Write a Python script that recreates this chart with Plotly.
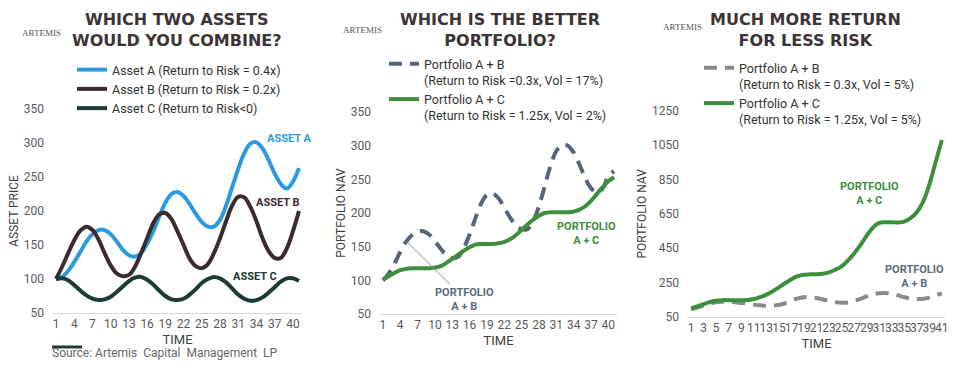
import plotly.graph_objects as go

W, H = 958, 372

# ---------------- data ----------------
time = list(range(1, 42))

asset_a = [100, 103, 112, 125, 140, 155, 166, 172, 172, 166, 155, 143, 135, 133, 138, 152, 170, 192, 212, 225,
           228, 222, 210, 196, 184, 177, 177, 187, 208, 235, 262, 285, 299, 301, 292, 275, 255, 240, 233, 243, 263]
asset_b = [100, 118, 138, 157, 171, 177, 172, 158, 138, 120, 108, 104, 106, 118, 138, 160, 182, 195, 197, 188,
           170, 150, 130, 119, 116, 122, 138, 160, 185, 208, 221, 220, 206, 185, 160, 141, 131, 131, 145, 170, 200]
asset_c = [100, 101, 98, 91, 83, 76, 71, 69, 70, 74, 81, 89, 97, 102, 103, 99, 92, 83, 75, 70,
           69, 71, 77, 85, 94, 100, 103, 101, 95, 86, 77, 71, 68, 69, 73, 80, 88, 96, 101, 101, 97]

p2_ab = [100, 110, 125, 142, 157, 167, 172, 173, 168, 158, 147, 137, 133, 135, 148, 168, 192, 214, 227, 229,
         222, 208, 193, 182, 176, 176, 188, 210, 240, 270, 292, 301, 300, 290, 272, 252, 237, 231, 236, 255, 262]
p2_ac = [101, 106, 111, 115, 117, 118, 118, 118, 118, 119, 121, 126, 132, 138, 144, 149, 153, 154, 154, 154,
         155, 157, 161, 167, 175, 183, 190, 196, 200, 201, 201, 201, 201, 202, 205, 210, 218, 228, 238, 247, 253]

p3_ab = [95, 105, 118, 128, 135, 138, 138, 136, 132, 128, 122, 118, 116, 116, 120, 130, 145, 158, 165, 165,
         160, 152, 142, 136, 133, 134, 142, 155, 170, 182, 188, 190, 186, 176, 165, 158, 155, 156, 163, 175, 188]
p3_ac = [100, 112, 125, 137, 145, 148, 148, 147, 147, 149, 155, 165, 180, 200, 222, 247, 270, 288, 296, 298,
         299, 302, 310, 325, 345, 378, 420, 468, 522, 570, 597, 601, 601, 600, 605, 625, 660, 720, 820, 950, 1080]

ticks_12 = list(range(1, 42, 3))
ticks_3 = list(range(1, 42, 2))
y1_ticks = [50, 100, 150, 200, 250, 300, 350]
y3_ticks = [50, 250, 450, 650, 850, 1050, 1250]

# ---------------- styles ----------------
BLUE = "#2b9ae0"
PLUM = "#3b2b31"
TEAL = "#1d3b36"
GREEN = "#3d8f3c"
SLATE = "#56657a"
GRAY = "#8a8a8a"
TXT = "#595959"
FONT = "Roboto"


def px_x(p):
    return p / W


def px_y(p):
    return 1 - p / H


fig = go.Figure()

fig.add_trace(go.Scatter(x=time, y=asset_a, mode="lines", line=dict(color=BLUE, width=4, shape="spline"),
                         name="Asset A (Return to Risk = 0.4x)", xaxis="x", yaxis="y", legend="legend"))
fig.add_trace(go.Scatter(x=time, y=asset_b, mode="lines", line=dict(color=PLUM, width=4, shape="spline"),
                         name="Asset B (Return to Risk = 0.2x)", xaxis="x", yaxis="y", legend="legend"))
fig.add_trace(go.Scatter(x=time, y=asset_c, mode="lines", line=dict(color=TEAL, width=4, shape="spline"),
                         name="Asset C (Return to Risk<0)", xaxis="x", yaxis="y", legend="legend"))

fig.add_trace(go.Scatter(x=time, y=p2_ab, mode="lines",
                         line=dict(color=SLATE, width=4, shape="spline", dash="13px,8px"),
                         name="Portfolio A + B<br>(Return to Risk =0.3x, Vol = 17%)",
                         xaxis="x2", yaxis="y2", legend="legend2"))
fig.add_trace(go.Scatter(x=time, y=p2_ac, mode="lines", line=dict(color=GREEN, width=4, shape="spline"),
                         name="Portfolio A + C<br>(Return to Risk = 1.25x, Vol = 2%)",
                         xaxis="x2", yaxis="y2", legend="legend2"))

fig.add_trace(go.Scatter(x=time, y=p3_ab, mode="lines",
                         line=dict(color=GRAY, width=4, shape="spline", dash="13px,8px"),
                         name="Portfolio A + B<br>(Return to Risk = 0.3x, Vol = 5%)",
                         xaxis="x3", yaxis="y3", legend="legend3"))
fig.add_trace(go.Scatter(x=time, y=p3_ac, mode="lines", line=dict(color=GREEN, width=4, shape="spline"),
                         name="Portfolio A + C<br>(Return to Risk = 1.25x, Vol = 5%)",
                         xaxis="x3", yaxis="y3", legend="legend3"))

xcommon = dict(range=[0.5, 41.5], showgrid=False, zeroline=False, showline=True, linecolor="#d9d9d9",
               linewidth=1, ticks="", tickangle=0, tickfont=dict(family=FONT, size=12, color=TXT),
               title_font=dict(family=FONT, size=13, color="#404040"), title_standoff=4)
ycommon = dict(showgrid=False, zeroline=False, showline=False, ticks="", ticklabelstandoff=8,
               tickfont=dict(family=FONT, size=12, color=TXT),
               title_font=dict(family=FONT, size=12, color="#404040"), title_standoff=2)

legcommon = dict(orientation="v", xanchor="left", yanchor="top", bgcolor="rgba(0,0,0,0)",
                 font=dict(family=FONT, size=12.5, color="#333333"), itemwidth=30, valign="top",
                 tracegroupgap=0, borderwidth=0)

fig.update_layout(
    width=W, height=H, margin=dict(l=0, r=0, t=0, b=0, autoexpand=False),
    paper_bgcolor="white", plot_bgcolor="white", showlegend=True,
    xaxis=dict(xcommon, domain=[px_x(53), px_x(302)], tickvals=ticks_12, title_text="TIME", anchor="y"),
    yaxis=dict(ycommon, domain=[px_y(313), px_y(109)], range=[50, 350], tickvals=y1_ticks,
               title_text="ASSET PRICE", anchor="x"),
    xaxis2=dict(xcommon, domain=[px_x(380), px_x(617)], tickvals=ticks_12, title_text="TIME", anchor="y2"),
    yaxis2=dict(ycommon, domain=[px_y(314), px_y(112)], range=[50, 350], tickvals=y1_ticks,
                title_text="PORTFOLIO NAV", anchor="x2"),
    xaxis3=dict(xcommon, domain=[px_x(688), px_x(945)], tickvals=ticks_3, title_text="TIME", anchor="y3"),
    yaxis3=dict(ycommon, domain=[px_y(317), px_y(110.7)], range=[50, 1250], tickvals=y3_ticks,
                title_text="PORTFOLIO NAV", anchor="x3"),
    legend=dict(legcommon, x=px_x(72), y=px_y(55)),
    legend2=dict(legcommon, x=px_x(384), y=px_y(49)),
    legend3=dict(legcommon, x=px_x(699), y=px_y(53)),
)

# titles
titles = [
    ("WHICH TWO ASSETS<br>WOULD YOU COMBINE?", 176),
    ("WHICH IS THE BETTER<br>PORTFOLIO?", 500),
    ("MUCH MORE RETURN<br>FOR LESS RISK", 805),
]
for txt, cx in titles:
    fig.add_annotation(text="<b>" + txt + "</b>", x=px_x(cx), y=px_y(30), xref="paper", yref="paper",
                       showarrow=False, xanchor="center", yanchor="middle", align="center",
                       font=dict(family="DejaVu Sans", size=16, color="#3d3438"))

# logos
for lx, ly in [(41, 33), (362, 30), (682, 27)]:
    fig.add_annotation(text="ARTEMIS", x=px_x(lx), y=px_y(ly), xref="paper", yref="paper", showarrow=False,
                       xanchor="center", yanchor="middle",
                       font=dict(family="Liberation Serif", size=9, color="#555555"))

# series labels
fig.add_annotation(text="<b>ASSET A</b>", x=39.4, y=306, xref="x", yref="y", showarrow=False,
                   xanchor="center", font=dict(family=FONT, size=11, color=BLUE))
fig.add_annotation(text="<b>ASSET B</b>", x=37.5, y=212, xref="x", yref="y", showarrow=False,
                   xanchor="center", font=dict(family=FONT, size=11, color=PLUM))
fig.add_annotation(text="<b>ASSET C</b>", x=33.8, y=103, xref="x", yref="y", showarrow=False,
                   xanchor="center", font=dict(family=FONT, size=11, color=TEAL))

fig.add_annotation(text="<b>PORTFOLIO<br>A + B</b>", x=5.2, y=157, xref="x2", yref="y2",
                   ax=15.2, ay=72, axref="x2", ayref="y2", showarrow=True, arrowhead=0,
                   arrowwidth=1, arrowcolor="#8c8c8c", align="center",
                   font=dict(family=FONT, size=11, color="#5d6a7b"))
fig.add_annotation(text="<b>PORTFOLIO<br>A + C</b>", x=36.3, y=169, xref="x2", yref="y2", showarrow=False,
                   xanchor="center", align="center", font=dict(family=FONT, size=11, color=GREEN))

fig.add_annotation(text="<b>PORTFOLIO<br>A + C</b>", x=29.5, y=771, xref="x3", yref="y3", showarrow=False,
                   xanchor="center", align="center", font=dict(family=FONT, size=11, color=GREEN))
fig.add_annotation(text="<b>PORTFOLIO<br>A + B</b>", x=36.7, y=283, xref="x3", yref="y3", showarrow=False,
                   xanchor="center", align="center", font=dict(family=FONT, size=11, color="#5b6b7e"))

# source
fig.add_annotation(text="Source: Artemis  Capital  Management  LP", x=px_x(50), y=px_y(353),
                   xref="paper", yref="paper", showarrow=False, xanchor="left", yanchor="middle",
                   font=dict(family=FONT, size=12, color="#666666"))
fig.add_shape(type="line", x0=px_x(52), x1=px_x(82), y0=px_y(347), y1=px_y(347), xref="paper", yref="paper",
              line=dict(color=TEAL, width=3))

fig.write_html("out.html", config={"displayModeBar": False},
               post_script="document.body.style.margin='0';")
